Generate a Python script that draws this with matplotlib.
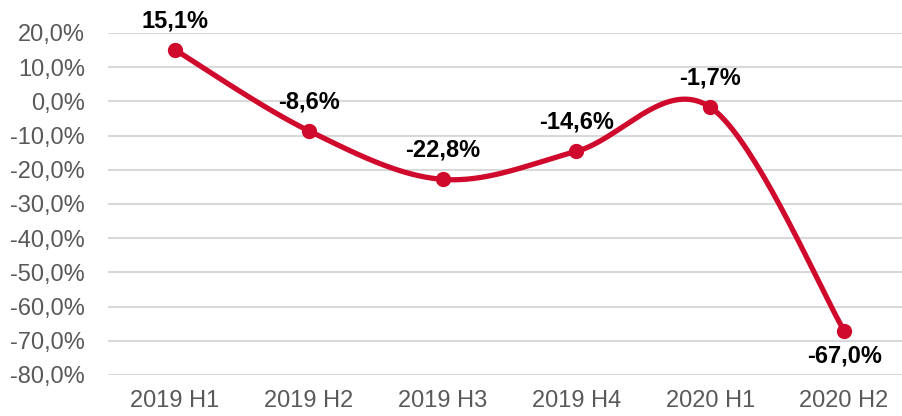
import numpy as np
import matplotlib
matplotlib.use("Agg")
import matplotlib.pyplot as plt

categories = ["2019 H1", "2019 H2", "2019 H3", "2019 H4", "2020 H1", "2020 H2"]
values = [15.1, -8.6, -22.8, -14.6, -1.7, -67.0]
labels = ["15,1%", "-8,6%", "-22,8%", "-14,6%", "-1,7%", "-67,0%"]
label_above = [True, True, True, True, True, False]
yticks = [20, 10, 0, -10, -20, -30, -40, -50, -60, -70, -80]

RED = "#CF0A2C"
GRAY = "#595959"

plt.rcParams["font.family"] = ["Liberation Sans", "DejaVu Sans"]

fig = plt.figure(figsize=(9.02, 4.16), dpi=100)
ax = fig.add_axes([108/902, 1-375/416, (911-108)/902, (375-33)/416])

x = np.arange(len(values), dtype=float)
y = np.array(values, dtype=float)

# Excel-like smoothed line (Catmull-Rom via cubic Bezier)
P = np.column_stack([x, y])
pts = np.vstack([P[0], P, P[-1]])
curve = []
t = np.linspace(0, 1, 40)
for i in range(1, len(pts) - 2):
    p0, p1, p2, p3 = pts[i-1], pts[i], pts[i+1], pts[i+2]
    c1 = p1 + (p2 - p0) / 6.0
    c2 = p2 - (p3 - p1) / 6.0
    seg = ((1-t)**3)[:, None]*p1 + (3*(1-t)**2*t)[:, None]*c1 + (3*(1-t)*t**2)[:, None]*c2 + (t**3)[:, None]*p2
    curve.append(seg)
curve = np.vstack(curve)

ax.plot(curve[:, 0], curve[:, 1], color=RED, lw=3.8, solid_capstyle="round", zorder=3)
ax.plot(x, y, "o", color=RED, ms=10, zorder=4)

for xi, yi, lab, up in zip(x, y, labels, label_above):
    ax.annotate(lab, (xi, yi), xytext=(0, 21 if up else -18), textcoords="offset points",
                ha="center", va="center", fontsize=17, fontweight="bold", color="black")

ax.set_xlim(-0.5, len(values) - 0.5)
ax.set_ylim(-80, 20)
ax.set_yticks(yticks)
ax.set_yticklabels([f"{v:.1f}%".replace(".", ",") for v in yticks])
ax.set_xticks(x)
ax.set_xticklabels(categories)
ax.tick_params(axis="both", length=0, labelsize=17, colors=GRAY)
ax.tick_params(axis="y", pad=16.5)
ax.tick_params(axis="x", pad=11)
ax.grid(axis="y", color="#D9D9D9", lw=1.5)
ax.set_axisbelow(True)
for s in ax.spines.values():
    s.set_visible(False)

fig.savefig("out.png", dpi=100)
